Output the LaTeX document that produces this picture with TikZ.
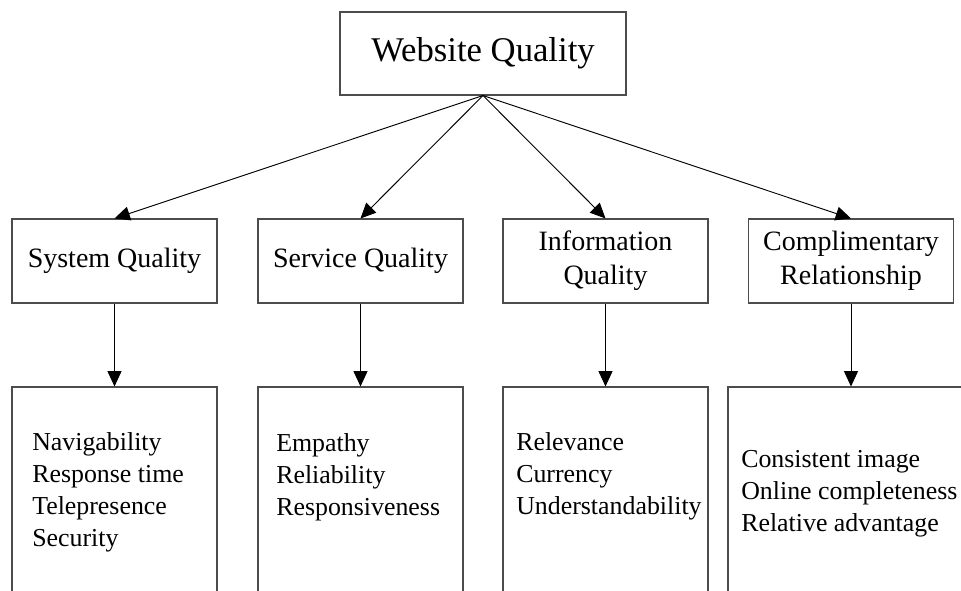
\documentclass[tikz,border=0pt]{standalone}
\usepackage{fontspec}
\setmainfont{Liberation Serif}
\usetikzlibrary{arrows.meta}
\begin{document}
\begin{tikzpicture}[x=0.75pt,y=-0.75pt,
  box/.style={draw=black!70, line width=0.8pt, rectangle, inner sep=0pt, align=center},
  midbox/.style={box, minimum width=153.75pt, minimum height=63pt,
    font=\fontsize{21pt}{25.5pt}\selectfont},
  lowbox/.style={box, minimum width=153.75pt, minimum height=234.75pt},
  items/.style={inner sep=0pt, align=left, anchor=base west,
    font=\fontsize{19.4pt}{23.8pt}\selectfont},
  conn/.style={draw=black, line width=0.7pt, -{Triangle[length=11.5pt,width=10.5pt]}}]
\useasboundingbox (0,0) rectangle (961,590);
\clip (0,0) rectangle (961,590);
% top
\node[box, minimum width=214.5pt, minimum height=62.25pt,
  font=\fontsize{26pt}{30pt}\selectfont] (wq) at (483,53.5) {Website Quality};
% middle
\node[midbox] (sq) at (114.5,261) {System Quality};
\node[midbox] (svq) at (360.5,261) {Service Quality};
\node[midbox] (iq) at (605.5,261) {Information\\Quality};
\node[midbox] (cr) at (851,261) {Complimentary\\Relationship};
% bottom
\node[lowbox] (sqd) at (114.5,543.5) {};
\node[lowbox] (svqd) at (360.5,543.5) {};
\node[lowbox] (iqd) at (605.5,543.5) {};
\node[box, minimum width=187.5pt, minimum height=234.75pt] (crd) at (853,543.5) {};
% item lists (anchored at the baseline of the last line)
\node[items] (sqt) at (32,546) {Navigability\\Response time\\Telepresence\\Security};
\node[items] (svqt) at (276,515) {Empathy\\Reliability\\Responsiveness};
\node[items] (iqt) at (516,514) {Relevance\\Currency\\Understandability};
\node[items] (crt) at (741,531) {Consistent image\\Online completeness\\Relative advantage};
% connectors
\draw[conn] (wq.south) -- (sq.north);
\draw[conn] (wq.south) -- (svq.north);
\draw[conn] (wq.south) -- (iq.north);
\draw[conn] (wq.south) -- (cr.north);
\draw[conn] (sq.south) -- (sqd.north);
\draw[conn] (svq.south) -- (svqd.north);
\draw[conn] (iq.south) -- (iqd.north);
\draw[conn] (cr.south) -- (cr.south |- crd.north);
\end{tikzpicture}
\end{document}
